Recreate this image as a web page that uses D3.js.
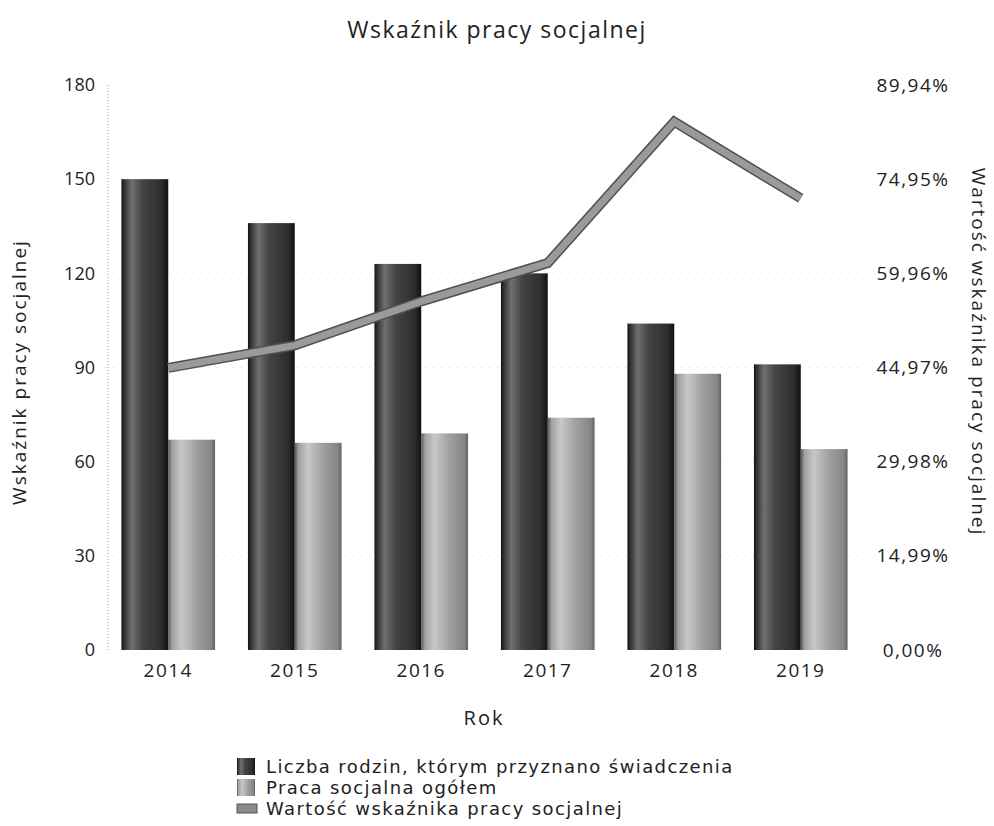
<!DOCTYPE html>
<html>
<head>
<meta charset="utf-8">
<script src="https://cdn.jsdelivr.net/npm/d3@7"></script>
<style>
  body { margin: 0; background: #fff; }
  svg text { font-family: "Open Sans", "Noto Sans", sans-serif; fill: #222; }
  svg .legend text { font-family: "DejaVu Sans", sans-serif; }
</style>
</head>
<body>
<div id="chart"></div>
<script>
// Data
const years = ['2014', '2015', '2016', '2017', '2018', '2019'];
const families = [150, 136, 123, 120, 104, 91];
const socialWork = [67, 66, 69, 74, 88, 64];
const indicator = [44.9, 48.5, 55.5, 61.6, 84.1, 71.9];
const leftTicks = [0, 30, 60, 90, 120, 150, 180];
const rightTicks = [0, 14.99, 29.98, 44.97, 59.96, 74.95, 89.94];
const seriesNames = [
  'Liczba rodzin, którym przyznano świadczenia',
  'Praca socjalna ogółem',
  'Wartość wskaźnika pracy socjalnej'
];

const width = 994;
const height = 826;
const plot = { left: 105, right: 864, top: 85, bottom: 650 };

const svg = d3.select('#chart').append('svg')
    .attr('width', width)
    .attr('height', height);

// Cylinder-like shading for the bars
const defs = svg.append('defs');
function gradient(id, stops) {
  const g = defs.append('linearGradient')
      .attr('id', id)
      .attr('x1', '0%').attr('x2', '100%')
      .attr('y1', '0%').attr('y2', '0%');
  stops.forEach(([o, c]) => g.append('stop').attr('offset', o).attr('stop-color', c));
}
gradient('darkBar', [['0%', '#111'], ['6%', '#333'], ['22%', '#707070'], ['45%', '#444'], ['85%', '#2e2e2e'], ['100%', '#111']]);
gradient('lightBar', [['0%', '#555'], ['8%', '#a0a0a0'], ['28%', '#c8c8c8'], ['60%', '#a0a0a0'], ['92%', '#858585'], ['100%', '#606060']]);

const x = d3.scaleBand()
    .domain(years)
    .range([plot.left, plot.right])
    .paddingInner(0.26)
    .paddingOuter(0.13);

const xs = d3.scaleBand()
    .domain(['families', 'social'])
    .range([0, x.bandwidth()]);

const y = d3.scaleLinear()
    .domain([0, 180])
    .range([plot.bottom, plot.top]);

const y2 = d3.scaleLinear()
    .domain([0, 89.94])
    .range([plot.bottom, plot.top]);

// Faint dotted grid
svg.append('g')
    .selectAll('line')
    .data(leftTicks.filter(d => d > 0))
  .enter().append('line')
    .attr('x1', plot.left)
    .attr('x2', plot.right)
    .attr('y1', d => y(d))
    .attr('y2', d => y(d))
    .attr('stroke', '#d0d0d0')
    .attr('stroke-width', 1)
    .attr('stroke-dasharray', '1,7');

// Left dotted axis line
svg.append('line')
    .attr('x1', 108).attr('x2', 108)
    .attr('y1', plot.top).attr('y2', plot.bottom)
    .attr('stroke', '#999')
    .attr('stroke-dasharray', '1,2');

// Left axis
const leftAxis = svg.append('g')
    .attr('transform', 'translate(95,0)')
    .call(d3.axisLeft(y).tickValues(leftTicks).tickSize(0).tickPadding(0));
leftAxis.select('.domain').remove();
leftAxis.selectAll('text')
    .attr('font-size', 18)
    .attr('text-anchor', 'end');

// Right axis
const rightAxis = svg.append('g')
    .attr('transform', 'translate(913,0)')
    .call(d3.axisRight(y2).tickValues(rightTicks).tickSize(0).tickPadding(0)
      .tickFormat(d => d.toFixed(2).replace('.', ',') + '%'));
rightAxis.select('.domain').remove();
rightAxis.selectAll('text')
    .attr('font-size', 19)
    .attr('letter-spacing', 1.5)
    .attr('text-anchor', 'middle');

// Bottom axis labels
const bottomAxis = svg.append('g')
    .attr('transform', `translate(0,${plot.bottom})`)
    .call(d3.axisBottom(x).tickSize(0).tickPadding(14));
bottomAxis.select('.domain').remove();
bottomAxis.selectAll('text')
    .attr('font-size', 19)
    .attr('letter-spacing', 1.5);

// Bars
const groups = svg.append('g')
    .selectAll('g')
    .data(years)
  .enter().append('g')
    .attr('transform', d => `translate(${x(d)},0)`);

groups.append('rect')
    .attr('x', xs('families'))
    .attr('width', xs.bandwidth())
    .attr('y', (d, i) => y(families[i]))
    .attr('height', (d, i) => y(0) - y(families[i]))
    .attr('fill', 'url(#darkBar)');

groups.append('rect')
    .attr('x', xs('social'))
    .attr('width', xs.bandwidth())
    .attr('y', (d, i) => y(socialWork[i]))
    .attr('height', (d, i) => y(0) - y(socialWork[i]))
    .attr('fill', 'url(#lightBar)');

// Indicator line
const line = d3.line()
    .x((d, i) => x(years[i]) + x.bandwidth() / 2)
    .y(d => y2(d));

svg.append('path')
    .datum(indicator)
    .attr('d', line)
    .attr('fill', 'none')
    .attr('stroke', '#505050')
    .attr('stroke-width', 10)
    .attr('stroke-linejoin', 'miter');
svg.append('path')
    .datum(indicator)
    .attr('d', line)
    .attr('fill', 'none')
    .attr('stroke', '#9a9a9a')
    .attr('stroke-width', 7)
    .attr('stroke-linejoin', 'miter');

// Titles
svg.append('text')
    .attr('x', 497)
    .attr('y', 38)
    .attr('text-anchor', 'middle')
    .attr('font-size', 23)
    .attr('letter-spacing', 1.5)
    .text('Wskaźnik pracy socjalnej');

svg.append('text')
    .attr('transform', 'translate(26,372) rotate(-90)')
    .attr('text-anchor', 'middle')
    .attr('font-size', 19)
    .attr('letter-spacing', 2)
    .text('Wskaźnik pracy socjalnej');

svg.append('text')
    .attr('transform', 'translate(972,352) rotate(90)')
    .attr('text-anchor', 'middle')
    .attr('font-size', 19)
    .attr('letter-spacing', 2)
    .text('Wartość wskaźnika pracy socjalnej');

svg.append('text')
    .attr('x', 484)
    .attr('y', 725)
    .attr('text-anchor', 'middle')
    .attr('font-size', 20)
    .attr('letter-spacing', 2)
    .text('Rok');

// Legend
const legend = svg.append('g')
    .attr('class', 'legend')
    .attr('transform', 'translate(237,758)');
const fills = ['url(#darkBar)', 'url(#lightBar)', '#8a8a8a'];
seriesNames.forEach((name, i) => {
  const row = legend.append('g').attr('transform', `translate(0,${i * 21})`);
  if (i < 2) {
    row.append('rect')
        .attr('width', 18).attr('height', 17)
        .attr('fill', fills[i]);
  } else {
    row.append('rect')
        .attr('y', 4)
        .attr('width', 20).attr('height', 9)
        .attr('fill', fills[i])
        .attr('stroke', '#555');
  }
  row.append('text')
      .attr('x', 29)
      .attr('y', 15)
      .attr('font-size', 18)
      .attr('letter-spacing', 1.4)
      .text(name);
});
</script>
</body>
</html>
